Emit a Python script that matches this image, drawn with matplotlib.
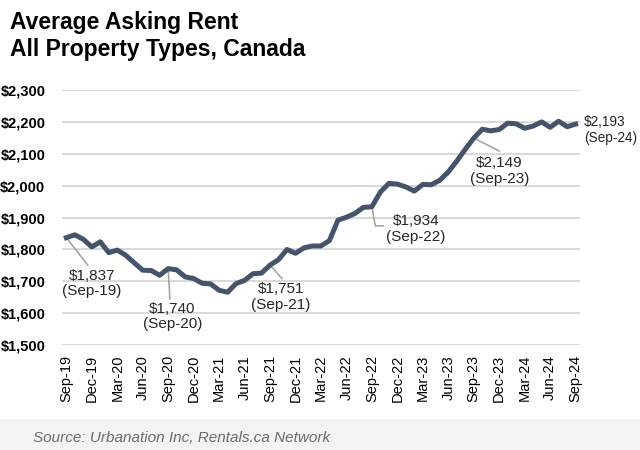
import matplotlib.pyplot as plt
import matplotlib.patches as mpatches
from matplotlib.ticker import FuncFormatter

plt.rcParams['font.family'] = ['Liberation Sans', 'DejaVu Sans']

months = ['Sep-19', 'Oct-19', 'Nov-19', 'Dec-19', 'Jan-20', 'Feb-20', 'Mar-20', 'Apr-20', 'May-20',
          'Jun-20', 'Jul-20', 'Aug-20', 'Sep-20', 'Oct-20', 'Nov-20', 'Dec-20', 'Jan-21', 'Feb-21',
          'Mar-21', 'Apr-21', 'May-21', 'Jun-21', 'Jul-21', 'Aug-21', 'Sep-21', 'Oct-21', 'Nov-21',
          'Dec-21', 'Jan-22', 'Feb-22', 'Mar-22', 'Apr-22', 'May-22', 'Jun-22', 'Jul-22', 'Aug-22',
          'Sep-22', 'Oct-22', 'Nov-22', 'Dec-22', 'Jan-23', 'Feb-23', 'Mar-23', 'Apr-23', 'May-23',
          'Jun-23', 'Jul-23', 'Aug-23', 'Sep-23', 'Oct-23', 'Nov-23', 'Dec-23', 'Jan-24', 'Feb-24',
          'Mar-24', 'Apr-24', 'May-24', 'Jun-24', 'Jul-24', 'Aug-24', 'Sep-24']

rent = [1837, 1846, 1832, 1808, 1824, 1790, 1798, 1782, 1758,
        1735, 1734, 1719, 1740, 1736, 1714, 1709, 1694, 1692,
        1672, 1666, 1693, 1703, 1724, 1726, 1751, 1768, 1800,
        1788, 1805, 1811, 1811, 1828, 1892, 1901, 1913, 1932,
        1934, 1980, 2007, 2005, 1996, 1983, 2004, 2003, 2017,
        2043, 2077, 2114, 2149, 2177, 2172, 2176, 2196, 2194,
        2180, 2187, 2200, 2183, 2202, 2185, 2193]

fig = plt.figure(figsize=(6.4, 4.5), dpi=100)
ax = fig.add_axes([0.097, 0.233, 0.809, 0.567])

x = list(range(len(months)))
ax.plot(x, rent, color='#44546a', lw=3.6, solid_joinstyle='round', zorder=3)

ax.set_xlim(-0.5, 60.5)
ax.set_ylim(1500, 2300)
ax.set_yticks(range(1500, 2301, 100))
ax.yaxis.set_major_formatter(FuncFormatter(lambda v, p: '${:,.0f}'.format(v)))
ax.set_xticks(x[::3])
ax.set_xticklabels(months[::3], rotation=90, fontsize=10.5)
for lab in ax.get_yticklabels():
    lab.set_fontweight('bold')
    lab.set_fontsize(10.5)
ax.tick_params(axis='both', length=0, colors='black')
ax.tick_params(axis='y', pad=12)
ax.tick_params(axis='x', pad=7)
ax.grid(axis='y', color='#d9d9d9', lw=1.5)
ax.set_axisbelow(True)
for s in ax.spines.values():
    s.set_visible(False)

# annotations: leader lines and labels
lc = '#a6a6a6'
def label(i, tx, ty, ha='center', size=11):
    ax.text(tx, ty, '${:,}\n({})'.format(rent[i], months[i]), ha=ha, va='top',
            fontsize=size, color='#262626', linespacing=1.15, zorder=4, clip_on=False)

i = months.index('Sep-19')
ax.plot([i, i + 2.5], [rent[i], rent[i] - 85], color=lc, lw=1.2, zorder=2)
label(i, 3.0, 1740)

i = months.index('Sep-20')
ax.plot([i, i + 0.2], [rent[i], rent[i] - 95], color=lc, lw=1.2, zorder=2)
label(i, 12.5, 1636)

i = months.index('Sep-21')
ax.plot([i, i + 1.4], [rent[i], rent[i] - 42], color=lc, lw=1.2, zorder=2)
label(i, 25.3, 1697)

i = months.index('Sep-22')
ax.plot([i, i + 0.4, i + 1.3], [rent[i], rent[i] - 60, rent[i] - 60], color=lc, lw=1.2, zorder=2)
label(i, 41.2, 1910)

i = months.index('Sep-23')
ax.plot([i, i + 3.0], [rent[i], rent[i] - 40], color=lc, lw=1.2, zorder=2)
label(i, 51.0, 2092)

i = len(rent) - 1
label(i, 61.0, 2222, ha='left', size=9.8)

fig.text(0.016, 0.975, 'Average Asking Rent\nAll Property Types, Canada', ha='left', va='top',
         fontsize=16.5, fontweight='bold', color='black', linespacing=1.2)

# source band
fig.patches.append(mpatches.Rectangle((0, 0), 1, 0.07, transform=fig.transFigure,
                                      facecolor='#f3f3f3', edgecolor='none', zorder=0))
fig.text(0.052, 0.027, 'Source: Urbanation Inc, Rentals.ca Network', ha='left', va='center',
         fontsize=11, style='italic', color='#6b6b6b')

fig.savefig('out.png', dpi=100)
